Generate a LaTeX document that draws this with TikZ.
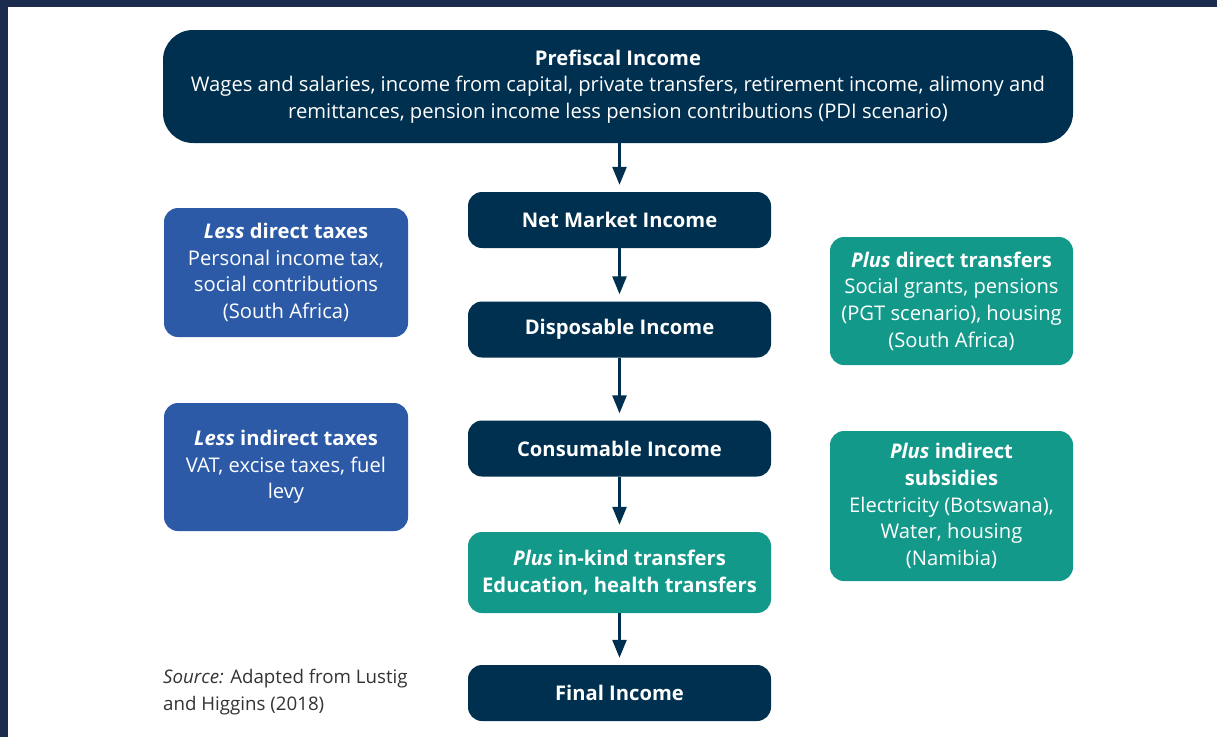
\documentclass[tikz,border=0pt]{standalone}
\usepackage{fontspec}
\setmainfont{Open Sans}
\usepackage{tikz}
\usetikzlibrary{arrows.meta,positioning}
\definecolor{ctNavy}{HTML}{00304F}
\definecolor{ctBlue}{HTML}{2C5AA7}
\definecolor{ctTeal}{HTML}{13998A}
\definecolor{ctFrame}{HTML}{1B2C4E}
\definecolor{ctText}{HTML}{333333}

\begin{document}
\begin{tikzpicture}[x=1pt,y=-1pt,
  every node/.style={font=\fontsize{20.2}{26.6}\selectfont},
  box/.style={rounded corners=14pt,text=white,align=center,inner sep=0pt},
  navybox/.style={box,fill=ctNavy,minimum width=303pt,minimum height=56pt},
  sidebox/.style={box,minimum width=244pt,minimum height=128pt},
  flow/.style={ctNavy,line width=2.6pt,-{Triangle[width=14pt,length=18pt]},shorten >=7pt}]
  \useasboundingbox (0,0) rectangle (1217,737);
  % frame
  \fill[ctFrame] (0,0) rectangle (1217,737);
  \fill[white] (8,7) rectangle (1217,737);

  % main column
  \node[box,fill=ctNavy,rounded corners=30pt,minimum width=910pt,minimum height=113pt] (pre) at (618,86.5)
    {\textbf{Prefiscal Income}\\Wages and salaries, income from capital, private transfers, retirement income, alimony and\\remittances, pension income less pension contributions (PDI scenario)};
  \node[navybox] (net) at (619.5,220) {\textbf{Net Market Income}};
  \node[navybox] (disp) at (619.5,329.5) {\textbf{Disposable Income}};
  \node[navybox] (cons) at (619.5,448.5) {\textbf{Consumable Income}};
  \node[navybox,fill=ctTeal,minimum height=81pt] (kind) at (619.5,572.5)
    {\textbf{\textit{Plus} in-kind transfers}\\\textbf{Education, health transfers}};
  \node[navybox] (fin) at (619.5,693) {\textbf{Final Income}};

  % side boxes
  \node[sidebox,fill=ctBlue,minimum height=129pt] (dtax) at (286,272.5)
    {\textbf{\textit{Less} direct taxes}\\Personal income tax,\\social contributions\\(South Africa)};
  \node[sidebox,fill=ctBlue] (itax) at (286,467)
    {\textbf{\textit{Less} indirect taxes}\\VAT, excise taxes, fuel\\levy};
  \node[sidebox,fill=ctTeal,minimum width=243pt] (dtr) at (951.5,301)
    {\textbf{\textit{Plus} direct transfers}\\Social grants, pensions\\(PGT scenario), housing\\(South Africa)};
  \node[sidebox,fill=ctTeal,minimum width=243pt,minimum height=150pt] (isub) at (951.5,506)
    {\textbf{\textit{Plus} indirect}\\\textbf{subsidies}\\Electricity (Botswana),\\Water, housing\\(Namibia)};

  \node[anchor=north west,align=left,text=ctText,inner sep=0pt,
        font=\fontsize{18.7}{26.6}\selectfont] (src) at (163,669)
    {\textit{Source:} Adapted from Lustig\\and Higgins (2018)};

  % arrows
  \draw[flow] (pre.south -| net.north) -- (net.north);
  \foreach \a/\b in {net/disp,disp/cons,cons/kind,kind/fin}{
    \draw[flow] (\a.south) -- (\b.north);
  }
\end{tikzpicture}
\end{document}
